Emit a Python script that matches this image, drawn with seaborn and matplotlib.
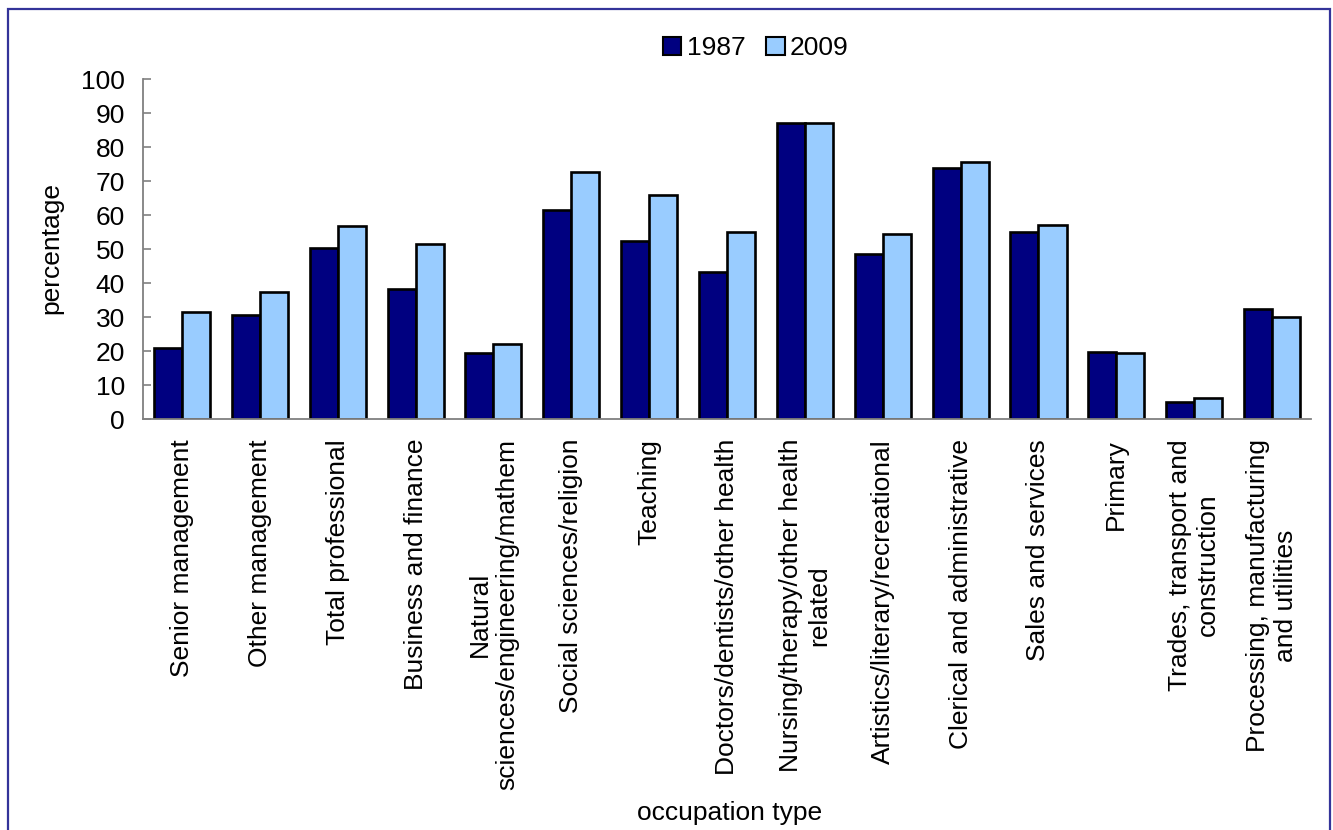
import matplotlib
matplotlib.use("Agg")
import matplotlib.pyplot as plt
from matplotlib.patches import Patch, Rectangle
import pandas as pd
import seaborn as sns

occupations = [
    "Senior management",
    "Other management",
    "Total professional",
    "Business and finance",
    "Natural\nsciences/engineering/mathem",
    "Social sciences/religion",
    "Teaching",
    "Doctors/dentists/other health",
    "Nursing/therapy/other health\nrelated",
    "Artistics/literary/recreational",
    "Clerical and administrative",
    "Sales and services",
    "Primary",
    "Trades, transport and\nconstruction",
    "Processing, manufacturing\nand utilities",
]
share_1987 = [21.1, 30.7, 50.3, 38.2, 19.5, 61.4, 52.3, 43.2, 87.1, 48.5, 73.8, 55.2, 19.7, 5.2, 32.4]
share_2009 = [31.5, 37.3, 56.8, 51.4, 22.3, 72.6, 65.9, 55.2, 87.0, 54.4, 75.6, 57.0, 19.5, 6.4, 30.0]
years = ["1987", "2009"]
yticks = list(range(0, 101, 10))

df = pd.DataFrame({
    "occupation": occupations * 2,
    "year": [years[0]] * len(occupations) + [years[1]] * len(occupations),
    "percentage": share_1987 + share_2009,
})

sns.set_style("white")
plt.rcParams["font.family"] = ["Liberation Sans", "DejaVu Sans"]
plt.rcParams["text.color"] = "black"
plt.rcParams["axes.labelcolor"] = "black"

palette = {"1987": "#000080", "2009": "#99CCFF"}
fs = 19

fig = plt.figure(figsize=(13.33, 8.30), dpi=100)
ax = fig.add_axes([0.1073, 0.4946, 0.8762, 0.4102])

sns.barplot(
    data=df, x="occupation", y="percentage", hue="year",
    order=occupations, hue_order=years, palette=palette,
    width=0.72, gap=0, edgecolor="black", linewidth=1.9,
    saturation=1, legend=False, ax=ax,
)

ax.set_ylim(0, 100)
ax.set_xlim(-0.5, len(occupations) - 0.5)
ax.set_yticks(yticks)
ax.set_yticklabels([str(t) for t in yticks], fontsize=fs)
ax.set_xticks(range(len(occupations)))
ax.set_xticklabels(occupations, rotation=90, ha="center", va="top",
                   multialignment="center", fontsize=fs)

for side in ("top", "right"):
    ax.spines[side].set_visible(False)
for side in ("left", "bottom"):
    ax.spines[side].set_color("#808080")
    ax.spines[side].set_linewidth(1.3)

ax.tick_params(axis="y", direction="in", length=6, width=1.2, color="#808080",
               labelcolor="black", pad=13, left=True)
ax.tick_params(axis="x", length=0, pad=14, labelcolor="black")

ax.set_ylabel("percentage", fontsize=fs)
ax.yaxis.set_label_coords(-0.068, 0.504)
ax.set_xlabel("occupation type", fontsize=fs)
ax.xaxis.set_label_coords(0.502, -1.12)

handles = [Patch(facecolor=palette[y], edgecolor="black", linewidth=1.5, label=y) for y in years]
fig.legend(handles=handles, loc="center", bbox_to_anchor=(0.567, 0.942), ncol=2,
           frameon=False, fontsize=fs, handlelength=0.7, handleheight=0.7,
           handletextpad=0.2, columnspacing=0.8)

fig.patches.append(Rectangle((0.006, -0.02), 0.9917, 1.009, transform=fig.transFigure,
                             fill=False, edgecolor="#333399", linewidth=1.6))

fig.savefig("out.png", dpi=100)
